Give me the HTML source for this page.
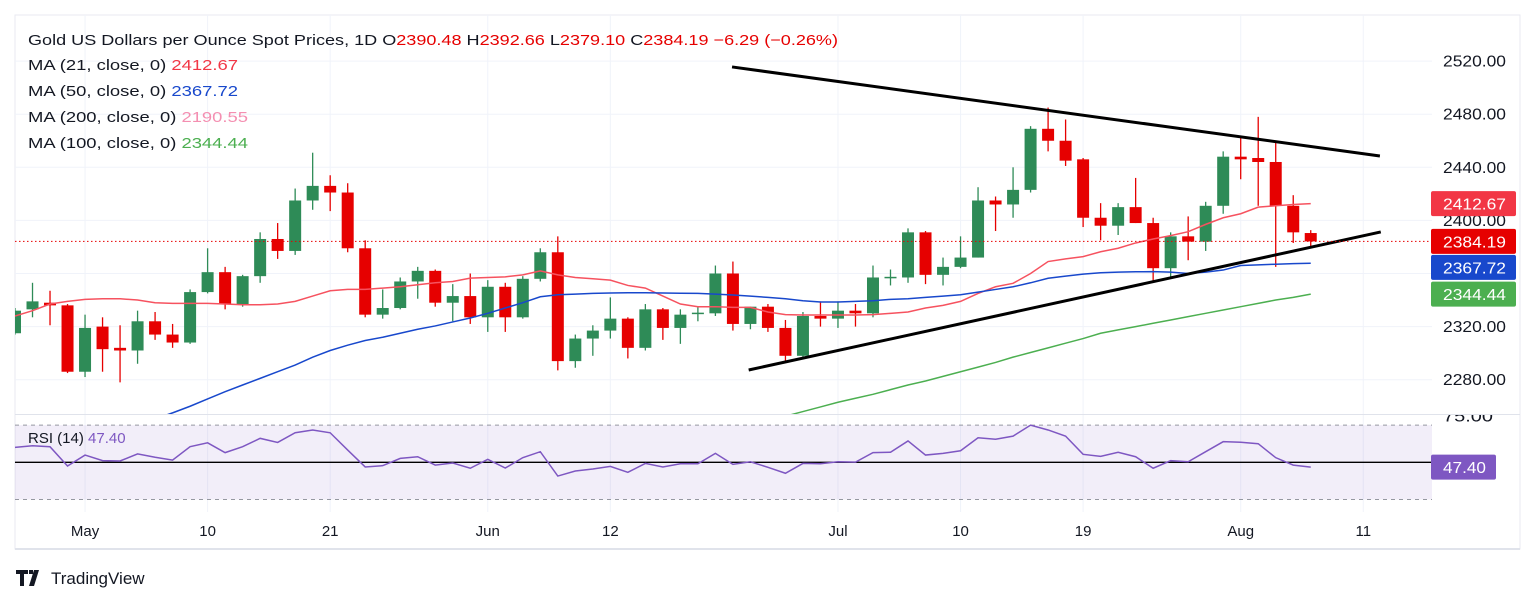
<!DOCTYPE html>
<html><head><meta charset="utf-8"><style>
html,body{margin:0;padding:0;background:#fff;}
svg{display:block;font-family:"Liberation Sans","DejaVu Sans",sans-serif;}
</style></head><body>
<svg id="chart" width="1536" height="603" viewBox="0 0 1536 603" xmlns="http://www.w3.org/2000/svg">
<defs>
<clipPath id="mainClip"><rect x="15" y="15" width="1417" height="399"/></clipPath>
<clipPath id="rsiClip"><rect x="15" y="415" width="1417" height="97"/></clipPath>
<clipPath id="rsiAxisClip"><rect x="1432" y="415" width="90" height="97"/></clipPath>
</defs>
<rect x="15" y="15" width="1505" height="534" fill="#fff" stroke="#e8eaf1" stroke-width="1"/>
<g id="grid"></g>
<g id="rsiPane"></g>
<g id="mainPane" clip-path="url(#mainClip)"></g>
<line x1="15" y1="414.5" x2="1520" y2="414.5" stroke="#e0e3eb"/>
<g id="axes"></g>
<g id="legend">
 <text x="28" y="45" font-size="15" fill="#131722" textLength="810" lengthAdjust="spacingAndGlyphs">Gold US Dollars per Ounce Spot Prices, 1D  O<tspan fill="#e60000">2390.48</tspan> H<tspan fill="#e60000">2392.66</tspan> L<tspan fill="#e60000">2379.10</tspan> C<tspan fill="#e60000">2384.19</tspan> <tspan fill="#e60000">−6.29 (−0.26%)</tspan></text>
 <text x="28" y="70" font-size="15" fill="#131722" textLength="210" lengthAdjust="spacingAndGlyphs">MA (21, close, 0)  <tspan fill="#f23645">2412.67</tspan></text>
 <text x="28" y="96" font-size="15" fill="#131722" textLength="210" lengthAdjust="spacingAndGlyphs">MA (50, close, 0)  <tspan fill="#1848cc">2367.72</tspan></text>
 <text x="28" y="122" font-size="15" fill="#131722" textLength="220" lengthAdjust="spacingAndGlyphs">MA (200, close, 0)  <tspan fill="#f48fb1">2190.55</tspan></text>
 <text x="28" y="148" font-size="15" fill="#131722" textLength="220" lengthAdjust="spacingAndGlyphs">MA (100, close, 0)  <tspan fill="#4caf50">2344.44</tspan></text>
 <text x="28" y="443" font-size="15" fill="#131722">RSI (14)  <tspan fill="#7e57c2">47.40</tspan></text>
</g>
<g>
 <path d="M16 570h12v4h-4v12h-4v-12h-4z M29 570h4v4h-4z M34 570h5l-5 16h-5z" fill="#131722"/>
 <text x="51" y="584" font-size="17" fill="#131722">TradingView</text>
</g>
</svg>
<script>
const opens=[2315,2333,2338,2336,2286,2320,2304,2302,2324,2314,2308,2346,2361,2337,2358,2386,2377,2415,2426,2421,2379,2329,2334,2354,2362,2338,2343,2327,2350,2327,2356,2376,2294,2311,2317,2326,2304,2333,2319,2329.5,2330,2360,2322,2335,2319,2298,2328,2326,2332,2330,2356.5,2357,2391,2359,2365,2372,2415,2412,2423,2469,2460,2446,2402,2396,2410,2398,2364,2388,2384,2411,2448,2447,2444,2411,2390.48];
const highs=[2334,2353,2347,2337,2329,2327,2321,2332,2331,2322,2348,2379,2365,2359,2391,2398,2424,2451,2434,2428,2385,2348,2357,2365,2363,2352,2360,2355,2353,2358,2379,2388,2314,2321,2342,2327,2337,2334,2333,2335,2366,2369,2335,2337,2325,2331,2339,2339,2337,2366,2363,2394,2392,2372,2388,2425,2418,2440,2471,2485,2476,2447,2413,2413,2432,2402,2391,2403,2414,2452,2463,2478,2459,2419,2392.66];
const lows=[2314,2327,2321,2285,2282,2286,2278,2292,2310,2304,2307,2345,2333,2335,2353,2371,2374,2408,2407,2376,2327,2326,2333,2341,2335,2324,2322,2316,2316,2326,2354,2287,2289,2298,2311,2296,2302,2310,2307,2324,2328,2317,2318,2316,2294,2297,2320,2319,2320,2327,2351,2353,2352,2351,2364,2372,2392,2402,2421,2452,2441,2395,2385,2389,2398,2354,2356,2370,2377,2405,2431,2411,2365,2383,2379.10];
const closes=[2332,2339,2336,2286,2319,2303,2302,2324,2314,2308,2346,2361,2337,2358,2386,2377,2415,2426,2421,2379,2329,2334,2354,2362,2338,2343,2327,2350,2327,2356,2376,2294,2311,2317,2326,2304,2333,2319,2329,2330.5,2360,2322,2335,2319,2298,2328,2326,2332,2330,2357,2357.5,2391,2359,2365,2372,2415,2412,2423,2469,2460,2445,2402,2396,2410,2398,2364,2388,2384,2411,2448,2446,2444,2411,2391,2384.19];
const ma21=[2328,2332,2337,2339,2340.5,2341,2341,2340,2338,2337.5,2337.5,2337.5,2337,2336.5,2336.5,2337,2339,2343,2347,2348,2348,2349,2350,2351.5,2353,2354,2356.5,2357,2357.5,2359,2362,2359,2357,2356,2355,2351,2349,2343,2337,2335,2335,2334.5,2334.5,2331,2329,2328.7,2328.7,2328.7,2328.7,2329,2330,2331,2334,2336,2339,2345,2350,2352.6,2360,2369,2371,2372.7,2376.4,2379,2383,2386,2388.5,2391.5,2397,2402,2405,2410,2411,2412,2412.67];
const ma50=[2212,2217,2222,2227,2232,2237,2242,2246,2250.5,2255,2260,2265.5,2271,2276,2281,2286,2291,2297,2302,2306,2309.5,2312,2315,2318,2320.5,2323.5,2326.5,2330,2334,2338,2342.5,2344,2344.5,2345,2345.3,2345.5,2345.5,2345.3,2345.1,2345,2344.5,2343.8,2343,2342,2341,2339.5,2338.5,2338.5,2339,2339.5,2340.5,2341,2342,2343,2344,2346,2348,2350,2353,2356.4,2358,2359.5,2360.6,2361,2361.3,2361.4,2361,2360,2361,2362.6,2366,2366.5,2367,2367.4,2367.72];
const ma100Start=40;
const ma100=[2239,2242,2245.5,2249,2252.5,2256,2259.5,2263,2266,2269,2272.5,2276,2279,2282.5,2286,2289.5,2293,2297,2300.5,2304,2307.5,2311,2315,2317.5,2320,2322.5,2325,2327.5,2330,2332.5,2335,2337.5,2340,2342,2344.44];
const rsi=[58,58.9,58.4,48,53.9,50.9,50.7,54.5,52.7,51.2,58.4,60.5,55.2,58.4,62.9,60.7,65.9,67.4,65.9,56.6,47.5,48.2,52.1,53,48.5,49.6,46.8,51.6,46.9,52.5,55.7,42.6,45.3,46.4,47.8,44.6,49.4,47.5,49.2,49.2,54.8,48.9,50.3,47.3,44.1,49.4,49.2,50.3,50.1,55.2,55.4,61.5,53.9,54.8,56.2,63.2,62.4,64.1,70,67.4,64.1,54.3,53.2,55.4,53,46.8,50.9,50.3,55.7,61.1,60.8,60,52.5,48.5,47.4];
const upperTrend=[[40.95,2515.6],[77.95,2448.5]];
const lowerTrend=[[41.9,2287.3],[78.0,2391.3]];
const priceTicks=[2520,2480,2440,2400,2320,2280];
const dateLabels=["May","10","21","Jun","12","Jul","10","19","Aug","11"];
const dateIdx=[4,11,18,27,34,47,54,61,70,77];
const lastValues=[2412.67,2384.19,2367.72,2344.44];
const lastColors=["#f23645","#e60000","#1848cc","#4caf50"];
const rsiLast=47.40;

const NS="http://www.w3.org/2000/svg";
function X(i){return 15+i*17.51;}
function Y(p){return 167.3+(2440-p)*1.3275;}
function RY(r){return 462.3-(r-50)*1.8575;}
function mk(tag,attrs,parent){const e=document.createElementNS(NS,tag);for(const k in attrs)e.setAttribute(k,attrs[k]);parent.appendChild(e);return e;}
const grid=document.getElementById('grid'),main=document.getElementById('mainPane'),rp=document.getElementById('rsiPane'),ax=document.getElementById('axes');

[2520,2480,2440,2400,2360,2320,2280].forEach(p=>{
 const l=mk('line',{x1:15,x2:1432,y1:Y(p),y2:Y(p),stroke:'#f0f3fa'},grid);
 
 
});
dateIdx.forEach(i=>{
 const l=mk('line',{x1:X(i),x2:X(i),y1:15,y2:512,stroke:'#f0f3fa'},grid);
 
 
});

const rg=mk('g',{'clip-path':'url(#rsiClip)'},rp);
const band=mk('rect',{x:15,y:RY(70),width:1417,height:RY(30)-RY(70),fill:'rgba(126,87,194,0.1)'},rg);


[70,30].forEach(v=>{
 const l=mk('line',{x1:15,x2:1432,y1:RY(v),y2:RY(v),stroke:'#9598a1','stroke-dasharray':'4 4'},rg);
 
 
});
const mid=mk('line',{x1:15,x2:1432,y1:RY(50),y2:RY(50),stroke:'#000','stroke-width':1.3},rg);


const rl=mk('polyline',{points:rsi.map((v,i)=>X(i)+','+RY(v)).join(' '),fill:'none',stroke:'#7e57c2','stroke-width':1.5},rg);



for(let i=0;i<opens.length;i++){
 const up=closes[i]>=opens[i];const col=up?'#2e8b57':'#e60000';
 const g=mk('g',{},main);
 
 
 mk('line',{x1:X(i),x2:X(i),y1:Y(highs[i]),y2:Y(lows[i]),stroke:col,'stroke-width':1.3},g);
 const top=Y(Math.max(opens[i],closes[i])),bot=Y(Math.min(opens[i],closes[i]));
 mk('rect',{x:X(i)-6,y:top,width:12,height:Math.max(1.5,bot-top),fill:col},g);
}
function line(vals,start,color,name,w){
 const l=mk('polyline',{points:vals.map((v,k)=>X(k+start)+','+Y(v)).join(' '),fill:'none',stroke:color,'stroke-width':w},main);
 
 
}
line(ma21,0,'#f6525f','ma21-line',1.5);
line(ma50,0,'#1848cc','ma50-line',1.5);
line(ma100,ma100Start,'#4caf50','ma100-line',1.5);
[[upperTrend,'upper-trendline'],[lowerTrend,'lower-trendline']].forEach(([t,n])=>{
 const l=mk('line',{x1:X(t[0][0]),y1:Y(t[0][1]),x2:X(t[1][0]),y2:Y(t[1][1]),stroke:'#000','stroke-width':3},main);
 
 
});
const lp=mk('line',{x1:15,x2:1432,y1:Y(closes[closes.length-1]),y2:Y(closes[closes.length-1]),stroke:'#e60000','stroke-dasharray':'1.5 2.5','stroke-width':1},main);



priceTicks.forEach(p=>{
 const t=mk('text',{x:1443,y:Y(p)+5.5,'font-size':16,fill:'#131722',textLength:63,lengthAdjust:'spacingAndGlyphs'},ax);
 t.textContent=p.toFixed(2);
 
 
});
const r75=mk('text',{x:1443,y:RY(75)+5.5,'font-size':16,fill:'#131722','clip-path':'url(#rsiAxisClip)',textLength:50,lengthAdjust:'spacingAndGlyphs'},ax);
r75.textContent='75.00';


lastValues.forEach((v,k)=>{
 const g=mk('g',{},ax);
 
 
 let yc=Y(v);
 if(k===2) yc=Math.max(yc,Y(lastValues[1])+26);
 if(k===3) yc=Math.max(yc,Y(lastValues[2])+26);
 mk('rect',{x:1431,y:yc-12.5,width:85,height:25,rx:2,fill:lastColors[k]},g);
 const t=mk('text',{x:1443,y:yc+6,'font-size':16,fill:'#fff',textLength:63,lengthAdjust:'spacingAndGlyphs'},g);
 t.textContent=v.toFixed(2);
});
const rt=mk('g',{},ax);


mk('rect',{x:1431,y:RY(rsiLast)-12.5,width:65,height:25,rx:2,fill:'#7e57c2'},rt);
const rtt=mk('text',{x:1443,y:RY(rsiLast)+6,'font-size':16,fill:'#fff',textLength:43,lengthAdjust:'spacingAndGlyphs'},rt);
rtt.textContent=rsiLast.toFixed(2);

dateLabels.forEach((s,k)=>{
 const t=mk('text',{x:X(dateIdx[k]),y:536,'font-size':15,fill:'#131722','text-anchor':'middle'},ax);
 t.textContent=s;
 
 
});
const tb=mk('line',{x1:15,x2:1520,y1:549,y2:549,stroke:'#e0e3eb','stroke-width':2},ax);


</script>
</body></html>
